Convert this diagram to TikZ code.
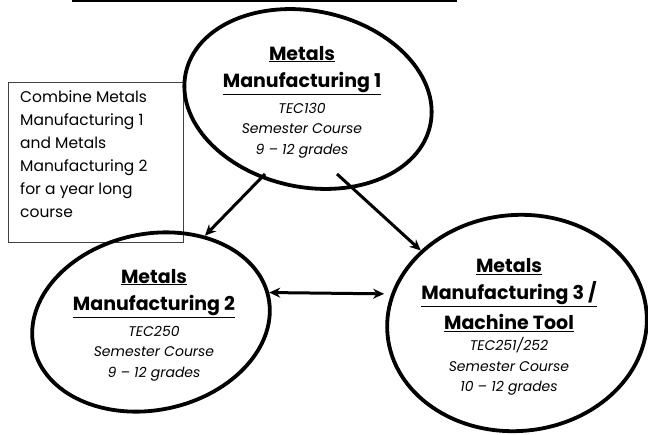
\documentclass[tikz,border=0pt]{standalone}
\usepackage{fontspec}
\setmainfont{Poppins}
\usetikzlibrary{shapes.geometric,arrows.meta}
\newcommand{\crsname}[1]{{\fontsize{19}{28}\selectfont\upshape\bfseries\underline{#1}}}
\begin{document}
\begin{tikzpicture}[x=1pt,y=-1pt,>={Stealth[length=11pt,width=10pt]},
    course/.style={draw,ellipse,line width=3.8pt,inner sep=0pt},
    info/.style={align=center,inner sep=0pt,font=\fontsize{14}{20.5}\selectfont\itshape},
    link/.style={line width=3pt}]
  \useasboundingbox (0,0) rectangle (648,434);
  \draw[line width=2pt] (72,1)--(457,1);
  \node[draw=black!75,line width=0.8pt,minimum width=175pt,minimum height=160pt,anchor=north west,inner sep=0pt] (note) at (8,82) {};
  \node[anchor=north west,align=left,inner sep=0pt,font=\fontsize{15.5}{23}\selectfont] (notetxt) at (20,91)
    {Combine Metals\\Manufacturing 1\\and Metals\\Manufacturing 2\\for a year long\\course};
  \node[course,minimum width=250pt,minimum height=176pt,rotate=-12] (m1) at (308,99) {};
  \node[course,minimum width=240pt,minimum height=176pt,rotate=12] (m2) at (151,322) {};
  \node[course,minimum width=260pt,minimum height=216pt,rotate=5] (m3) at (517,323) {};
  \node[info] (t1) at (302,102) {\crsname{Metals}\\[7pt]\crsname{Manufacturing 1}\\[5pt]TEC130\\Semester Course\\9 -- 12 grades};
  \node[info] (t2) at (154,325) {\crsname{Metals}\\[7pt]\crsname{Manufacturing 2}\\[5pt]TEC250\\Semester Course\\9 -- 12 grades};
  \node[info] (t3) at (509,327) {\crsname{Metals}\\[7pt]\crsname{Manufacturing 3 /}\\[6pt]\crsname{Machine Tool}\\[1pt]TEC251/252\\Semester Course\\10 -- 12 grades};
  \coordinate (a1) at (265,174);
  \coordinate (a2) at (337,174);
  \draw[link,->] (a1)--(m2.46);
  \draw[link,->] (a2)--(m3.138);
  \draw[link,<->,shorten >=7pt] (m2.2)--(m3.162);
\end{tikzpicture}
\end{document}
